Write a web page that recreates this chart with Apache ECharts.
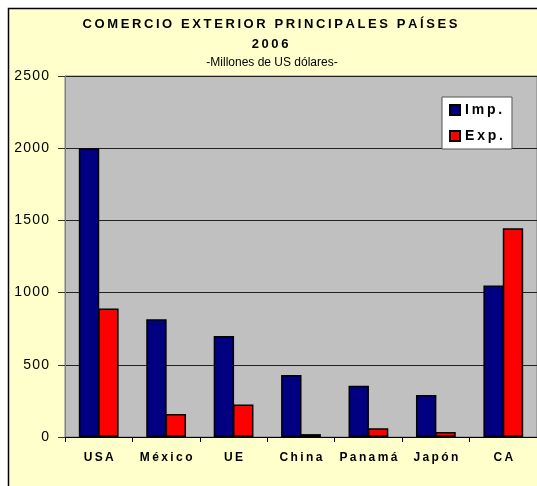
<!DOCTYPE html>
<html>
<head>
<meta charset="utf-8">
<script src="https://cdn.jsdelivr.net/npm/echarts@6/dist/echarts.min.js"></script>
<style>
  html, body { margin: 0; padding: 0; background: #fff; }
  #main { width: 537px; height: 486px; }
</style>
</head>
<body>
<div id="main"></div>
<script>
// datos del grafico
var paises = ['USA', 'México', 'UE', 'China', 'Panamá', 'Japón', 'CA'];
var importaciones = [2000, 815, 700, 430, 355, 290, 1050];
var exportaciones = [890, 160, 225, 20, 60, 35, 1445];
var ejeY = [0, 500, 1000, 1500, 2000, 2500];

// separa las letras un poco (como en Excel)
function espaciado(s, sep) {
    return String(s).split('').join(sep || '\u2009');
}

var fuente = 'Liberation Sans, Arial, sans-serif';
var myChart = echarts.init(document.getElementById('main'));

var option = {
    backgroundColor: '#fff',
    animation: false,
    graphic: [{
        type: 'rect',
        z: -100,
        shape: { x: 8.5, y: 8.5, width: 600, height: 600 },
        style: { fill: '#FFFFCC', stroke: '#000', lineWidth: 1.5 }
    }],
    title: [
        {
            text: espaciado('COMERCIO EXTERIOR PRINCIPALES PAÍSES'),
            left: 270, top: 18, textAlign: 'center', padding: 0,
            textStyle: { fontFamily: fuente, fontSize: 13, fontWeight: 'bold', color: '#000' }
        },
        {
            text: espaciado('2006'),
            left: 270, top: 38, textAlign: 'center', padding: 0,
            textStyle: { fontFamily: fuente, fontSize: 13, fontWeight: 'bold', color: '#000' }
        },
        {
            text: '-Millones de US dólares-',
            left: 272, top: 57, textAlign: 'center', padding: 0,
            textStyle: { fontFamily: fuente, fontSize: 12, fontWeight: 'normal', color: '#000' }
        }
    ],
    legend: {
        orient: 'vertical',
        left: 442, top: 97,
        backgroundColor: '#fff',
        borderColor: '#555',
        borderWidth: 1,
        borderRadius: 0,
        padding: [6, 9, 6, 7],
        itemWidth: 10, itemHeight: 10, itemGap: 12,
        icon: 'rect',
        formatter: function (n) { return espaciado(n); },
        textStyle: { fontFamily: fuente, fontSize: 14, fontWeight: 'bold', color: '#000' }
    },
    grid: {
        left: 65, top: 76, width: 479, height: 361,
        show: true,
        backgroundColor: '#C0C0C0',
        borderColor: '#808080',
        borderWidth: 1
    },
    xAxis: {
        type: 'category',
        data: paises,
        axisLine: { lineStyle: { color: '#000', width: 1 } },
        axisTick: { show: true, interval: 0, length: 5, lineStyle: { color: '#000' } },
        axisLabel: {
            interval: 0,
            margin: 15,
            fontFamily: fuente, fontSize: 12, fontWeight: 'bold', color: '#000',
            formatter: function (v) { return espaciado(v); }
        }
    },
    yAxis: {
        type: 'value',
        min: ejeY[0], max: ejeY[ejeY.length - 1], interval: 500,
        axisLine: { show: true, lineStyle: { color: '#808080' } },
        axisTick: { show: true, length: 7, lineStyle: { color: '#333' } },
        axisLabel: {
            margin: 16, fontFamily: fuente, fontSize: 14, color: '#000',
            formatter: function (v) { return espaciado(v, '\u200A'); }
        },
        splitLine: { show: true, lineStyle: { color: '#222', width: 1 } }
    },
    series: [
        {
            name: 'Imp.',
            type: 'bar',
            data: importaciones,
            barGap: '-5%',
            barCategoryGap: '41%',
            itemStyle: { color: '#000080', borderColor: '#000', borderWidth: 1.5 }
        },
        {
            name: 'Exp.',
            type: 'bar',
            data: exportaciones,
            barGap: '-5%',
            barCategoryGap: '41%',
            itemStyle: { color: '#FF0000', borderColor: '#000', borderWidth: 1.5 }
        }
    ]
};
myChart.setOption(option);
</script>
</body>
</html>
